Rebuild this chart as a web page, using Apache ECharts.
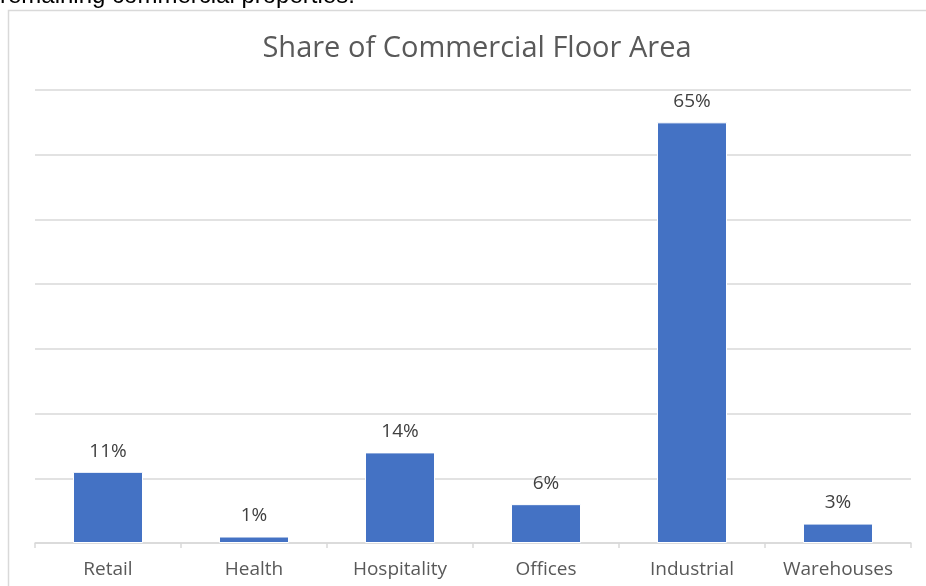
<!DOCTYPE html>
<html>
<head>
<meta charset="utf-8">
<script src="https://cdn.jsdelivr.net/npm/echarts@6/dist/echarts.min.js"></script>
<style>
  html, body { margin: 0; padding: 0; background: #fff; }
  #chart { width: 926px; height: 586px; }
</style>
</head>
<body>
<div id="chart"></div>
<script>
// Share of commercial floor area by property type (percent)
const categories = ['Retail', 'Health', 'Hospitality', 'Offices', 'Industrial', 'Warehouses'];
const shares = [11, 1, 14, 6, 65, 3];
const chartTitle = 'Share of Commercial Floor Area';
const leadText = 'remaining commercial properties.';

const chart = echarts.init(document.getElementById('chart'));
chart.setOption({
  animation: false,
  backgroundColor: '#ffffff',
  title: {
    text: chartTitle,
    left: 472,
    top: 29,
    textAlign: 'center',
    textStyle: {
      fontFamily: 'Open Sans',
      fontSize: 29,
      fontWeight: 'normal',
      color: '#595959'
    }
  },
  graphic: [
    {
      type: 'rect',
      shape: { x: 8.5, y: 10.5, width: 930, height: 600 },
      style: { fill: 'none', stroke: '#d9d9d9', lineWidth: 1.5 },
      silent: true
    },
    {
      type: 'text',
      x: 0,
      y: -16,
      style: {
        text: leadText,
        font: '24px "Liberation Sans", Arial, sans-serif',
        fill: '#000000',
        verticalAlign: 'top'
      },
      silent: true
    }
  ],
  grid: { left: 35, right: 15, top: 90, bottom: 43, containLabel: false },
  xAxis: {
    type: 'category',
    data: categories,
    axisLine: { show: true, lineStyle: { color: '#d9d9d9', width: 1.5 } },
    axisTick: { show: true, length: 5, lineStyle: { color: '#d9d9d9', width: 1.5 } },
    axisLabel: {
      margin: 17,
      fontFamily: 'Open Sans',
      fontSize: 19,
      color: '#595959'
    }
  },
  yAxis: {
    type: 'value',
    min: 0,
    max: 70,
    interval: 10,
    axisLabel: { show: false },
    axisLine: { show: false },
    axisTick: { show: false },
    splitLine: { lineStyle: { color: '#d9d9d9', width: 1.5 } }
  },
  series: [{
    type: 'bar',
    data: shares,
    barWidth: 70,
    itemStyle: { color: '#4472c4', borderColor: '#ffffff', borderWidth: 1 },
    label: {
      show: true,
      position: 'top',
      distance: 11,
      formatter: p => p.value + '%',
      fontFamily: 'Open Sans',
      fontSize: 19,
      color: '#404040'
    }
  }]
});
</script>
</body>
</html>
